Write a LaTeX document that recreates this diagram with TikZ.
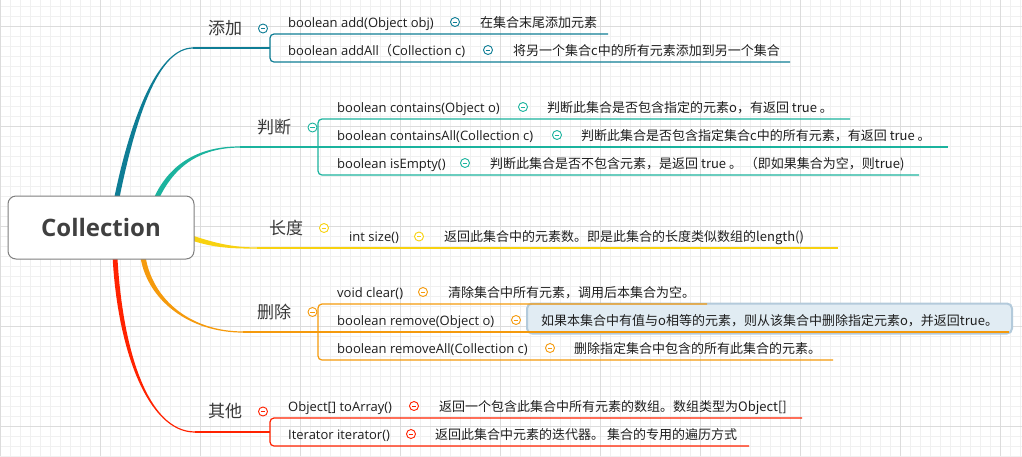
\documentclass[tikz,border=0pt]{standalone}
\usepackage{fontspec}
\setmainfont{Open Sans}
\newfontfamily\cjk{Noto Sans CJK SC}
\usetikzlibrary{calc}
\definecolor{cA}{HTML}{0E7D95}
\definecolor{cB}{HTML}{1BB39E}
\definecolor{cC}{HTML}{F8D210}
\definecolor{cD}{HTML}{F59A0C}
\definecolor{cE}{HTML}{FF2200}
\definecolor{gminor}{HTML}{F0F0F0}
\definecolor{gmajor}{HTML}{DCDCDC}
\definecolor{txt}{HTML}{1E1E1E}
\definecolor{lbl}{HTML}{383838}
\definecolor{rootborder}{HTML}{7F7F7F}
\definecolor{roottext}{HTML}{404040}
\definecolor{hlfill}{HTML}{E1ECF3}
\definecolor{hlborder}{HTML}{B3CADB}
\begin{document}
\begin{tikzpicture}[x=1pt,y=-1pt,
  meth/.style={anchor=base west,inner sep=0pt,font=\fontsize{13}{15}\selectfont,text=txt},
  desc/.style={anchor=base west,inner sep=0pt,font=\cjk\fontsize{13}{15}\selectfont,text=txt},
  topic/.style={inner sep=0pt,font=\cjk\fontsize{17}{19}\selectfont,text=lbl},
  fold/.style={circle,draw=#1,fill=white,line width=0.9pt,minimum size=9pt,inner sep=0pt,
    path picture={\draw[#1,line width=0.9pt] ([xshift=-2.4pt]path picture bounding box.center) -- ([xshift=2.4pt]path picture bounding box.center);}},
  uline/.style={draw=#1,line width=1.2pt,rounded corners=4pt},
]
\useasboundingbox (0,0) rectangle (1022,456);
\fill[white] (0,0) rectangle (1022,456);
% grid
\foreach \i in {0,...,102} \draw[gminor,line width=0.8pt] (\i*10+0.7,0) -- (\i*10+0.7,456);
\foreach \j in {0,...,45} \draw[gminor,line width=0.8pt] (0,\j*10+6) -- (1022,\j*10+6);
\foreach \i in {0,...,10} \draw[gmajor,line width=0.8pt] (\i*100+0.7,0) -- (\i*100+0.7,456);
\foreach \j in {0,...,4} \draw[gmajor,line width=0.8pt] (0,\j*100+26) -- (1022,\j*100+26);

% branch end coordinates
\coordinate (a0) at (117,197); \coordinate (a1) at (193,48);
\coordinate (b0) at (157,197); \coordinate (b1) at (240,147);
\coordinate (c0) at (192,238); \coordinate (c1) at (257,248);
\coordinate (d0) at (143,257); \coordinate (d1) at (243,332);
\coordinate (e0) at (115,257); \coordinate (e1) at (195,432);

% tapered branch curves
\fill[cA] ($(a0)+(-2.6,0)$) .. controls (132.5,110) and (160,47.4) .. ($(a1)+(0,-0.6)$)
  -- ($(a1)+(0,0.6)$) .. controls (160,48.6) and (137.5,110) .. ($(a0)+(2.6,0)$) -- cycle;
\fill[cB] ($(b0)+(-2.2,-1.1)$) .. controls (173,158.5) and (205,146.4) .. ($(b1)+(0,-0.6)$)
  -- ($(b1)+(0,0.6)$) .. controls (205,147.6) and (177,161.5) .. ($(b0)+(2.2,1.1)$) -- cycle;
\fill[cC] ($(c0)+(0,-2.6)$) .. controls (215,243) and (232,247.4) .. ($(c1)+(0,-0.6)$)
  -- ($(c1)+(0,0.6)$) .. controls (232,248.6) and (215,248) .. ($(c0)+(0,2.6)$) -- cycle;
\fill[cD] ($(d0)+(-2.6,0)$) .. controls (147.5,301) and (190,332.6) .. ($(d1)+(0,0.6)$)
  -- ($(d1)+(0,-0.6)$) .. controls (190,331.4) and (152.5,299) .. ($(d0)+(2.6,0)$) -- cycle;
\fill[cE] ($(e0)+(-2.4,0)$) .. controls (117.5,350) and (148,432.6) .. ($(e1)+(0,0.6)$)
  -- ($(e1)+(0,-0.6)$) .. controls (148,431.4) and (122.5,350) .. ($(e0)+(2.4,0)$) -- cycle;

% root
\node[draw=rootborder,fill=white,line width=1pt,rounded corners=8pt,minimum width=186pt,minimum height=63pt,
  font=\bfseries\fontsize{24}{28}\selectfont,text=roottext] (root) at (101,227.5) {Collection};

% highlight box for remove description
\draw[hlborder,fill=hlfill,line width=2pt,rounded corners=5pt] (527,303.5) rectangle (1012,333.5);

% underlines / brackets
\coordinate (a2) at (270,48);
\draw[uline=cA] (608,34) -- (270,34) -- (270,62) -- (790,62);
\draw[cA,line width=1.2pt] (a1) -- (a2);
\coordinate (b2) at (318,147);
\draw[uline=cB] (850,119) -- (318,119) -- (318,175) -- (919,175);
\draw[cB,line width=1.2pt] (b1) -- (b2) -- (948,147);
\coordinate (c2) at (838,248);
\draw[cC,line width=1.2pt] (c1) -- (c2);
\coordinate (d2) at (318,332);
\draw[uline=cD] (707,304) -- (318,304) -- (318,360) -- (833,360);
\draw[cD,line width=1.2pt] (d1) -- (d2) -- (1009,332);
\coordinate (e2) at (270,432);
\draw[uline=cE] (802,418) -- (270,418) -- (270,446) -- (749,446);
\draw[cE,line width=1.2pt] (e1) -- (e2);

% topics
\node[topic] (tA) at (225,28) {添加};
\node[topic] (tB) at (274,127) {判断};
\node[topic] (tC) at (286,228) {长度};
\node[topic] (tD) at (274,312) {删除};
\node[topic] (tE) at (225,411) {其他};
\node[fold=cA] (fA) at (263,28.5) {};
\node[fold=cB] (fB) at (312.5,127.5) {};
\node[fold=cC] (fC) at (324,228) {};
\node[fold=cD] (fD) at (312.5,312) {};
\node[fold=cE] (fE) at (263,411.5) {};

% 添加
\node[meth] (m1) at (288,27) {boolean add(Object obj)};
\node[fold=cA] (f1) at (455,22) {};
\node[desc] (d1t) at (480,27) {在集合末尾添加元素};
\node[meth] (m2) at (288,55) {boolean addAll{\cjk （}Collection c)};
\node[fold=cA] (f2) at (488,50) {};
\node[desc] (d2t) at (513,55) {将另一个集合c中的所有元素添加到另一个集合};

% 判断
\node[meth] (m3) at (337,112) {boolean contains(Object o)};
\node[fold=cB] (f3) at (523,107) {};
\node[desc] (d3t) at (547,112) {判断此集合是否包含指定的元素o，有返回 true 。};
\node[meth] (m4) at (337,140) {boolean containsAll(Collection c)};
\node[fold=cB] (f4) at (557,135) {};
\node[desc] (d4t) at (581,140) {判断此集合是否包含指定集合c中的所有元素，有返回 true 。};
\node[meth] (m5) at (337,168) {boolean isEmpty()};
\node[fold=cB] (f5) at (465,163) {};
\node[desc] (d5t) at (490,168) {判断此集合是否不包含元素，是返回 true 。 （即如果集合为空，则true)};

% 长度
\node[meth] (m6) at (349,241) {int size()};
\node[fold=cC] (f6) at (419,236.5) {};
\node[desc] (d6t) at (444,241) {返回此集合中的元素数。即是此集合的长度类似数组的length()};

% 删除
\node[meth] (m7) at (337,297) {void clear()};
\node[fold=cD] (f7) at (423,292) {};
\node[desc] (d7t) at (448,297) {清除集合中所有元素，调用后本集合为空。};
\node[meth] (m8) at (337,325) {boolean remove(Object o)};
\node[fold=cD] (f8) at (516,320) {};
\node[desc] (d8t) at (541,325) {如果本集合中有值与o相等的元素，则从该集合中删除指定元素o，并返回true。};
\node[meth] (m9) at (337,353) {boolean removeAll(Collection c)};
\node[fold=cD] (f9) at (550,348) {};
\node[desc] (d9t) at (574,353) {删除指定集合中包含的所有此集合的元素。};

% 其他
\node[meth] (m10) at (288,411) {Object[] toArray()};
\node[fold=cE] (f10) at (414,406) {};
\node[desc] (d10t) at (439,411) {返回一个包含此集合中所有元素的数组。数组类型为Object[]};
\node[meth] (m11) at (288,439) {Iterator iterator()};
\node[fold=cE] (f11) at (411,434) {};
\node[desc] (d11t) at (435,439) {返回此集合中元素的迭代器。 集合的专用的遍历方式};
\end{tikzpicture}
\end{document}
